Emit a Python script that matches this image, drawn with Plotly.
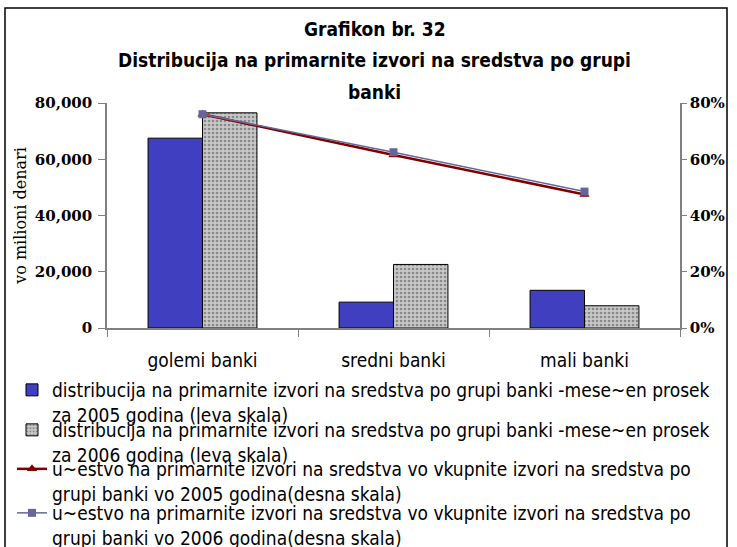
import plotly.graph_objects as go

categories = ["golemi banki", "sredni banki", "mali banki"]
bars_2005 = [67500, 9200, 13400]
bars_2006 = [76500, 22600, 7900]
share_2005 = [0.76, 0.615, 0.475]
share_2006 = [0.76, 0.625, 0.485]

title_lines = ["Grafikon br. 32",
               "Distribucija na primarnite izvori na sredstva po grupi",
               "banki"]

names = [
    "distribucija na primarnite izvori na sredstva po grupi banki -mese~en prosek<br>za 2005 godina (leva skala)",
    "distribucija na primarnite izvori na sredstva po grupi banki -mese~en prosek<br>za 2006 godina (leva skala)",
    "u~estvo na primarnite izvori na sredstva vo vkupnite izvori na sredstva po<br>grupi banki vo 2005 godina(desna skala)",
    "u~estvo na primarnite izvori na sredstva vo vkupnite izvori na sredstva po<br>grupi banki vo 2006 godina(desna skala)",
]

COND = "DejaVu Sans Condensed"
SERIF = "DejaVu Serif"

fig = go.Figure()
fig.add_trace(go.Bar(x=categories, y=bars_2005, name=names[0], legend="legend",
                     marker=dict(color="#3f3fbf", line=dict(color="black", width=1))))
fig.add_trace(go.Bar(x=categories, y=bars_2006, name=names[1], legend="legend2",
                     marker=dict(color="#b4b4b4", line=dict(color="black", width=1),
                                 pattern=dict(shape=".", fgcolor="#4a4a4a", bgcolor="#c8c8c8",
                                              size=4, solidity=0.35))))
fig.add_trace(go.Scatter(x=categories, y=share_2005, name=names[2], yaxis="y2", legend="legend3",
                         mode="lines+markers", line=dict(color="#800000", width=2.5),
                         marker=dict(symbol="triangle-up", size=9, color="#800000")))
fig.add_trace(go.Scatter(x=categories, y=share_2006, name=names[3], yaxis="y2", legend="legend4",
                         mode="lines+markers", line=dict(color="#666699", width=1.5),
                         marker=dict(symbol="square", size=8, color="#666699")))

L, R, T, B = 107, 57, 103, 219
W, H = 737, 547
pw, ph = W - L - R, H - T - B

def px(x):
    return (x - L) / pw

def py(y):
    return (H - B - y) / ph

title_y = [29, 60, 92]
annotations = [dict(text=t, xref="paper", yref="paper", x=px(W / 2 + 6), y=py(yy),
                    xanchor="center", yanchor="middle", showarrow=False,
                    font=dict(family=COND, size=19, color="black", weight="bold"))
               for t, yy in zip(title_lines, title_y)]

LEG_FS = 19
legend_tops = [371, 411, 450, 494]

def leg(top):
    return dict(x=px(12), xanchor="left", y=py(top), yanchor="top", valign="top",
                font=dict(family=COND, size=LEG_FS, color="black"),
                bgcolor="rgba(0,0,0,0)")

fig.update_layout(
    width=W, height=H,
    margin=dict(l=L, r=R, t=T, b=B, autoexpand=False),
    paper_bgcolor="white", plot_bgcolor="white",
    barmode="group", bargap=0.43, bargroupgap=0,
    annotations=annotations,
    xaxis=dict(showline=True, linecolor="#808080", linewidth=1.5, ticks="outside",
               tickson="boundaries", ticklen=7, tickcolor="#808080", ticklabelstandoff=14,
               tickfont=dict(family=COND, size=19, color="black"), showgrid=False),
    yaxis=dict(range=[0, 80000], tickvals=[0, 20000, 40000, 60000, 80000], tickformat=",",
               showline=True, linecolor="#808080", linewidth=1.5, ticks="outside", ticklen=7,
               tickcolor="#808080", showgrid=False, zeroline=False, ticklabelstandoff=3,
               tickfont=dict(family=SERIF, size=15, color="black", weight="bold"),
               title=dict(text="vo milioni denari", font=dict(family=SERIF, size=16, color="black"),
                          standoff=4)),
    yaxis2=dict(range=[0, 0.8], tickvals=[0, 0.2, 0.4, 0.6, 0.8], tickformat=".0%",
                overlaying="y", side="right", showline=True, linecolor="#808080", linewidth=1.5,
                ticks="outside", ticklen=5, tickcolor="#808080", showgrid=False, zeroline=False,
                tickfont=dict(family=SERIF, size=15, color="black", weight="bold")),
    legend=leg(legend_tops[0]),
    legend2=leg(legend_tops[1]),
    legend3=leg(legend_tops[2]),
    legend4=leg(legend_tops[3]),
    showlegend=True,
    shapes=[dict(type="rect", xref="paper", yref="paper", x0=px(5), x1=px(727),
                 y0=py(560), y1=py(8), line=dict(color="black", width=1.5),
                 fillcolor="rgba(0,0,0,0)", layer="above")],
)

fig.write_html("out.html", config={"displayModeBar": False},
               post_script="document.body.style.margin='0';")
